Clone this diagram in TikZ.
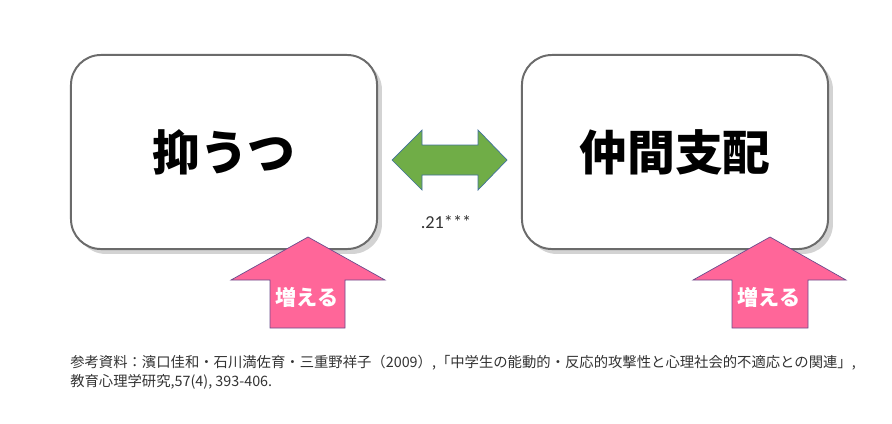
\documentclass[tikz,border=0pt]{standalone}
\usepackage{fontspec}
\newfontfamily\jpfont{Noto Sans CJK JP}
\newfontfamily\numfont{Carlito}
\usetikzlibrary{shadows}

\definecolor{boxline}{HTML}{6B6B6B}
\definecolor{arrowgreen}{HTML}{70AD47}
\definecolor{greenline}{HTML}{41719C}
\definecolor{arrowpink}{HTML}{FF6699}
\definecolor{pinkline}{HTML}{6A4C8C}
\definecolor{reftext}{HTML}{333333}

\tikzset{
    factor/.style={
        draw=boxline,
        line width=1.4pt,
        fill=white,
        rounded corners=0.75cm,
        minimum width=7.65cm,
        minimum height=4.85cm,
        drop shadow={shadow xshift=3.5pt,shadow yshift=-3.5pt,opacity=0.35,fill=gray},
        font=\jpfont\bfseries\fontsize{34pt}{40pt}\selectfont
    },
    corr/.style={
        fill=arrowgreen,
        draw=greenline,
        line width=0.5pt
    },
    rise/.style={
        fill=arrowpink,
        draw=pinkline,
        line width=0.5pt
    },
    risetext/.style={
        text=white,
        font=\jpfont\bfseries\fontsize{15pt}{18pt}\selectfont
    }
}

\begin{document}
\begin{tikzpicture}[x=0.025cm,y=-0.025cm]
    \useasboundingbox (0,0) rectangle (892,423);

    % Faktoren
    \path
        node[factor] at (224,152) (dep) {抑うつ}
        node[factor] at (675,152) (dom) {仲間支配};

    % Korrelation
    \draw[corr] (392,160) -- (422,130) -- (422,145) -- (478,145) -- (478,130)
        -- (507,160) -- (478,190) -- (478,175) -- (422,175) -- (422,190) -- cycle;
    \path node[text=reftext,font=\numfont\fontsize{13pt}{15pt}\selectfont]
        at (446,222) (r) {.21***};

    % Pfeile nach oben
    \draw[rise] (308,237) -- (385,280) -- (345,280) -- (345,328) -- (270,328)
        -- (270,280) -- (231,280) -- cycle;
    \draw[rise] (770,237) -- (846,280) -- (808,280) -- (808,328) -- (732,328)
        -- (732,280) -- (693,280) -- cycle;
    \path
        node[risetext] at (307,297) (upl) {増える}
        node[risetext] at (769,297) (upr) {増える};

    % Quelle
    \path node[anchor=north west,align=left,inner sep=0pt,text=reftext,
        font=\jpfont\fontsize{10.2pt}{13.5pt}\selectfont] at (70,355) (src)
        {参考資料：濱口佳和・石川満佐育・三重野祥子（2009）,「中学生の能動的・反応的攻撃性と心理社会的不適応との関連」,\\
         教育心理学研究,57(4), 393-406.};
\end{tikzpicture}
\end{document}
